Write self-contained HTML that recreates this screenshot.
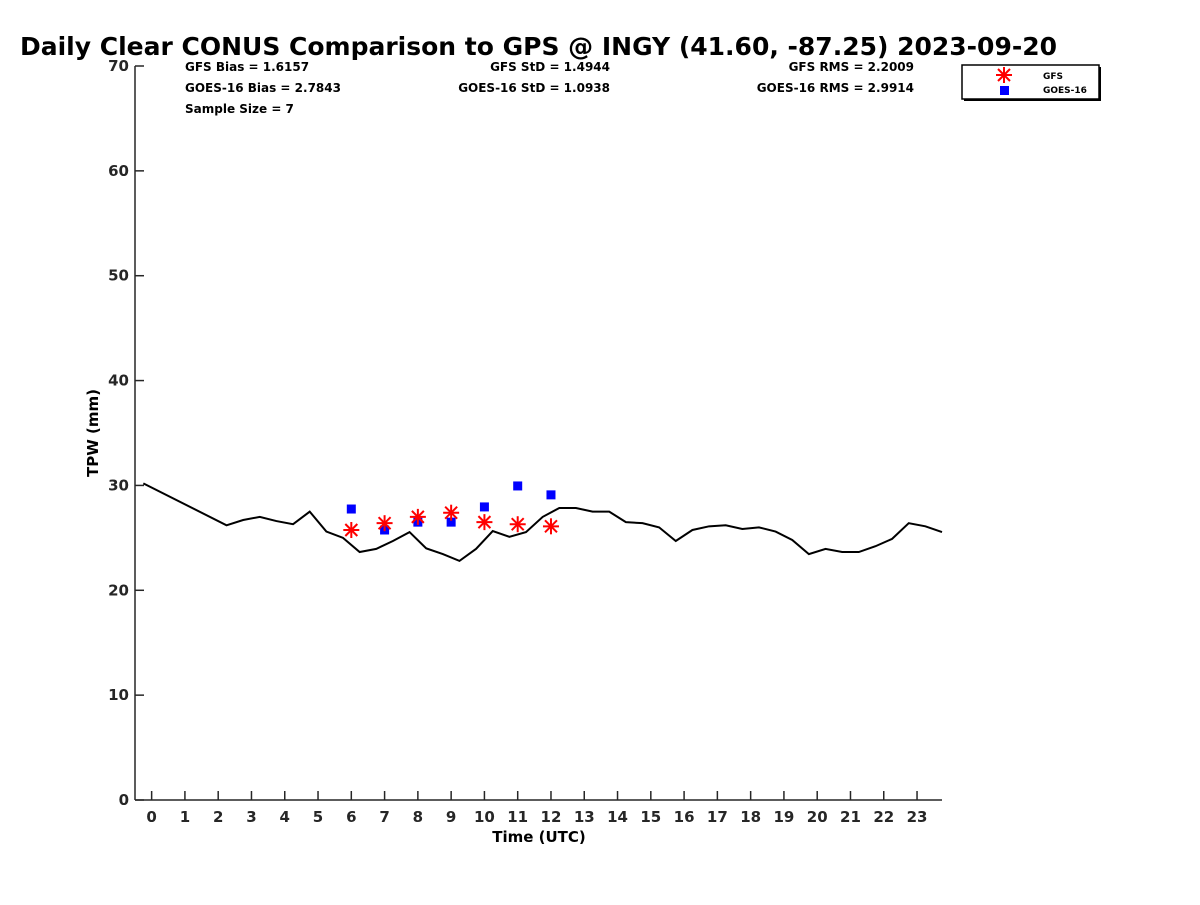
<!DOCTYPE html>
<html><head><meta charset="utf-8"><style>
body{margin:0;background:#fff;}
svg text{font-family:"DejaVu Sans","Liberation Sans",sans-serif;font-weight:bold;}
</style></head><body>
<svg id="chart" width="1200" height="900" xmlns="http://www.w3.org/2000/svg">
<text x="20" y="55" font-size="25" textLength="1037" lengthAdjust="spacingAndGlyphs">Daily Clear CONUS Comparison to GPS @ INGY (41.60, -87.25) 2023-09-20</text>
<g font-size="12">
<text x="185" y="71">GFS Bias = 1.6157</text>
<text x="185" y="92">GOES-16 Bias = 2.7843</text>
<text x="185" y="113">Sample Size = 7</text>
<text x="610" y="71" text-anchor="end">GFS StD = 1.4944</text>
<text x="610" y="92" text-anchor="end">GOES-16 StD = 1.0938</text>
<text x="914" y="71" text-anchor="end">GFS RMS = 2.2009</text>
<text x="914" y="92" text-anchor="end">GOES-16 RMS = 2.9914</text>
</g>
<g id="axes"></g>
<g id="marks"></g>
<text x="539" y="842" font-size="15" text-anchor="middle">Time (UTC)</text>
<text transform="translate(98,433) rotate(-90)" font-size="15" text-anchor="middle">TPW (mm)</text>
<g>
<rect x="964" y="67" width="137" height="34" fill="#000"/>
<rect x="962" y="65" width="137" height="34" fill="#fff" stroke="#000" stroke-width="1.5"/>
<g stroke="#f00" stroke-width="2"><line x1="996" y1="75" x2="1012" y2="75"/><line x1="1004" y1="67" x2="1004" y2="83"/><line x1="998" y1="69" x2="1010" y2="81"/><line x1="998" y1="81" x2="1010" y2="69"/></g>
<rect x="1000" y="86" width="9" height="9" fill="#00f"/>
<text x="1043" y="79" font-size="9">GFS</text>
<text x="1043" y="93" font-size="9">GOES-16</text>
</g>
</svg>
<script>
const gpsTimes=[-0.25,2.25,2.75,3.25,3.75,4.25,4.75,5.25,5.75,6.25,6.75,7.25,7.75,8.25,8.75,9.25,9.75,10.25,10.75,11.25,11.75,12.25,12.75,13.25,13.75,14.25,14.75,15.25,15.75,16.25,16.75,17.25,17.75,18.25,18.75,19.25,19.75,20.25,20.75,21.25,21.75,22.25,22.75,23.25,23.75];
const gpsValues=[30.2,26.2,26.7,27.0,26.6,26.3,27.5,25.6,25.0,23.65,23.95,24.7,25.55,24.0,23.45,22.8,23.95,25.65,25.1,25.55,27.0,27.85,27.85,27.5,27.5,26.5,26.4,26.0,24.7,25.75,26.1,26.2,25.85,26.0,25.6,24.8,23.45,23.95,23.65,23.65,24.2,24.9,26.4,26.1,25.55];
const satTimes=[6,7,8,9,10,11,12];
const gfsValues=[25.75,26.4,27.0,27.4,26.5,26.3,26.1];
const goesValues=[27.75,25.75,26.5,26.5,27.95,29.95,29.1];
const xTicks=[0,1,2,3,4,5,6,7,8,9,10,11,12,13,14,15,16,17,18,19,20,21,22,23];
const yTicks=[0,10,20,30,40,50,60,70];
const X0=135,X1=942,Y0=800,Y1=66,xMin=-0.5,xMax=23.75,yMin=0,yMax=70;
const xs=v=>X0+(v-xMin)/(xMax-xMin)*(X1-X0);
const ys=v=>Y0-(v-yMin)/(yMax-yMin)*(Y0-Y1);
const NS="http://www.w3.org/2000/svg";
function mk(tag,attrs,parent){const e=document.createElementNS(NS,tag);for(const k in attrs)e.setAttribute(k,attrs[k]);parent.appendChild(e);return e;}
const ax=document.getElementById('axes'),mg=document.getElementById('marks');
const xa=mk('line',{x1:X0,y1:Y0,x2:X1,y2:Y0,stroke:'#262626','stroke-width':1.5},ax);


const ya=mk('line',{x1:X0,y1:Y0,x2:X0,y2:Y1,stroke:'#262626','stroke-width':1.5},ax);


xTicks.forEach(t=>{const x=xs(t);
const tk=mk('line',{x1:x,y1:Y0,x2:x,y2:Y0-9,stroke:'#262626','stroke-width':1.5},ax);


const lb=mk('text',{x:x,y:Y0+22,'font-size':15,'text-anchor':'middle',fill:'#262626'},ax);lb.textContent=t;

});
yTicks.forEach(t=>{const y=ys(t);
const tk=mk('line',{x1:X0,y1:y,x2:X0+9,y2:y,stroke:'#262626','stroke-width':1.5},ax);


const lb=mk('text',{x:X0-6,y:y+5,'font-size':15,'text-anchor':'end',fill:'#262626'},ax);lb.textContent=t;

});
const pl=mk('polyline',{points:gpsTimes.map((t,i)=>xs(t)+','+ys(gpsValues[i])).join(' '),fill:'none',stroke:'#000','stroke-width':2},mg);


satTimes.forEach((t,i)=>{const x=xs(t),y=ys(goesValues[i]);
const r=mk('rect',{x:x-4.5,y:y-4.5,width:9,height:9,fill:'#00f'},mg);

});
satTimes.forEach((t,i)=>{const x=xs(t),y=ys(gfsValues[i]);
const g=mk('g',{stroke:'#f00','stroke-width':2},mg);


mk('line',{x1:x-8,y1:y,x2:x+8,y2:y},g);mk('line',{x1:x,y1:y-8,x2:x,y2:y+8},g);
mk('line',{x1:x-6,y1:y-6,x2:x+6,y2:y+6},g);mk('line',{x1:x-6,y1:y+6,x2:x+6,y2:y-6},g);});
</script>
</body></html>
